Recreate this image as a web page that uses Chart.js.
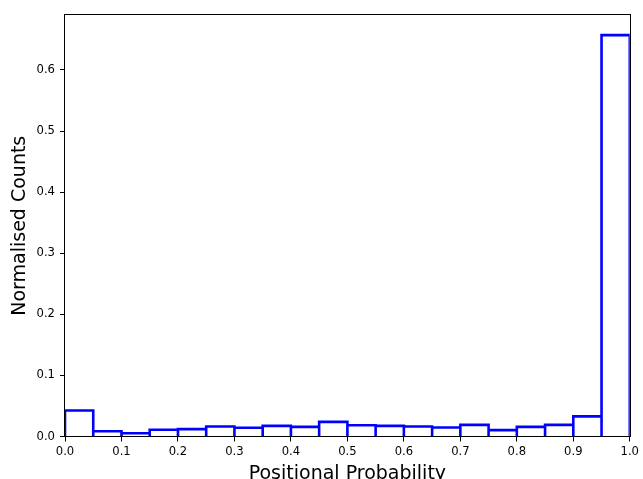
<!DOCTYPE html>
<html>
<head>
<meta charset="utf-8">
<script src="https://cdn.jsdelivr.net/npm/chart.js@4/dist/chart.umd.min.js"></script>
<style>
html,body{margin:0;padding:0;background:#fff;}
#wrap{width:643px;height:479px;position:relative;}
</style>
</head>
<body>
<div id="wrap"><canvas id="c" width="643" height="479"></canvas></div>
<script>
const binEdges = [0,0.05,0.1,0.15,0.2,0.25,0.3,0.35,0.4,0.45,0.5,0.55,0.6,0.65,0.7,0.75,0.8,0.85,0.9,0.95,1.0];
const counts = [0.0425,0.0087,0.0054,0.011,0.012,0.0163,0.0142,0.0174,0.0158,0.024,0.0185,0.0174,0.0163,0.0147,0.019,0.0104,0.0158,0.019,0.033,0.657];
const xTicks = [0,0.1,0.2,0.3,0.4,0.5,0.6,0.7,0.8,0.9,1.0];
const yTicks = [0,0.1,0.2,0.3,0.4,0.5,0.6];

// outline of histogram bars built from the bins
const outline = [];
for (let i = 0; i < counts.length; i++) {
  outline.push({x: binEdges[i], y: 0});
  outline.push({x: binEdges[i], y: counts[i]});
  outline.push({x: binEdges[i+1], y: counts[i]});
  outline.push({x: binEdges[i+1], y: 0});
}

const frame = {
  id: 'frame',
  afterDatasetsDraw(chart) {
    const {ctx, chartArea: a} = chart;
    ctx.save();
    ctx.strokeStyle = '#000';
    ctx.lineWidth = 1;
    ctx.strokeRect(Math.round(a.left) - 0.5, Math.round(a.top) - 0.5, Math.round(a.right - a.left) + 1, Math.round(a.bottom - a.top));
    ctx.restore();
  }
};

const font = {family: 'DejaVu Sans', size: 11.6};
new Chart(document.getElementById('c'), {
  type: 'line',
  data: {
    datasets: [{
      data: outline,
      borderColor: '#0000ff',
      borderWidth: 2.6,
      pointRadius: 0,
      fill: false,
      tension: 0,
      borderJoinStyle: 'miter'
    }]
  },
  options: {
    responsive: false,
    animation: false,
    devicePixelRatio: 1,
    layout: {padding: {top: 15, right: 12, left: 0, bottom: 0}},
    plugins: {legend: {display: false}, tooltip: {enabled: false}},
    scales: {
      x: {
        type: 'linear', min: 0, max: 1,
        afterFit(s) { s.height = 42.5; },
        afterBuildTicks(s) { s.ticks = xTicks.map(v => ({value: v})); },
        ticks: {font, color: '#000', padding: 4, maxRotation: 0, autoSkip: false, callback: v => Number(v).toFixed(1)},
        grid: {drawOnChartArea: false, tickLength: 5, color: '#000', tickWidth: 1},
        border: {display: false},
        title: {display: true, text: 'Positional Probability', color: '#000', font: {family: 'DejaVu Sans', size: 19, lineHeight: 0.55}, padding: 0}
      },
      y: {
        type: 'linear', min: 0, max: 0.6899,
        afterFit(s) { s.width = 65; },
        afterBuildTicks(s) { s.ticks = yTicks.map(v => ({value: v})); },
        ticks: {font, color: '#000', padding: 5, callback: v => Number(v).toFixed(1)},
        grid: {drawOnChartArea: false, tickLength: 5, color: '#000', tickWidth: 1},
        border: {display: false},
        title: {display: true, text: 'Normalised Counts', color: '#000', font: {family: 'DejaVu Sans', size: 19, lineHeight: 1.2}, padding: {top: 9, bottom: 0}}
      }
    }
  },
  plugins: [frame]
});
</script>
</body>
</html>
